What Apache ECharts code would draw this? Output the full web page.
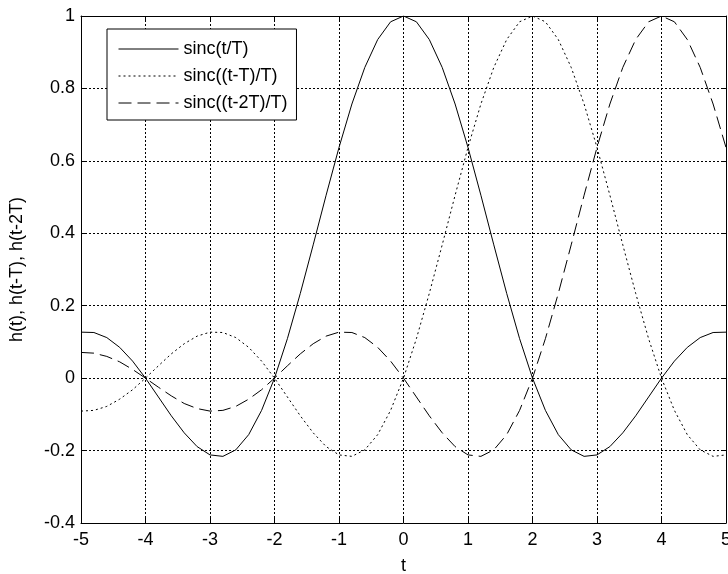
<!DOCTYPE html>
<html>
<head>
<meta charset="utf-8">
<script src="https://cdn.jsdelivr.net/npm/echarts@6/dist/echarts.min.js"></script>
<style>
  html, body { margin: 0; padding: 0; background: #fff; }
  #chart { width: 728px; height: 574px; }
</style>
</head>
<body>
<div id="chart"></div>
<script>
// Sample times t = -5 ... 5 (step 0.2)
const tValues = [
  -5.0, -4.8, -4.6, -4.4, -4.2, -4.0, -3.8, -3.6, -3.4, -3.2,
  -3.0, -2.8, -2.6, -2.4, -2.2, -2.0, -1.8, -1.6, -1.4, -1.2,
  -1.0, -0.8, -0.6, -0.4, -0.2, 0.0, 0.2, 0.4, 0.6, 0.8,
  1.0, 1.2, 1.4, 1.6, 1.8, 2.0, 2.2, 2.4, 2.6, 2.8,
  3.0, 3.2, 3.4, 3.6, 3.8, 4.0, 4.2, 4.4, 4.6, 4.8, 5.0
];

// h(t) = sinc(t/T)
const hT0 = [
  0.127, 0.126, 0.112, 0.085, 0.047, 0.000, -0.052, -0.104, -0.151, -0.189,
  -0.212, -0.216, -0.198, -0.156, -0.089, 0.000, 0.109, 0.234, 0.368, 0.505,
  0.637, 0.757, 0.858, 0.935, 0.984, 1.000, 0.984, 0.935, 0.858, 0.757,
  0.637, 0.505, 0.368, 0.234, 0.109, 0.000, -0.089, -0.156, -0.198, -0.216,
  -0.212, -0.189, -0.151, -0.104, -0.052, 0.000, 0.047, 0.085, 0.112, 0.126, 0.127
];

// h(t-T) = sinc((t-T)/T)
const hT1 = [
  -0.091, -0.089, -0.078, -0.058, -0.032, 0.000, 0.034, 0.067, 0.095, 0.116,
  0.127, 0.126, 0.112, 0.085, 0.047, 0.000, -0.052, -0.104, -0.151, -0.189,
  -0.212, -0.216, -0.198, -0.156, -0.089, 0.000, 0.109, 0.234, 0.368, 0.505,
  0.637, 0.757, 0.858, 0.935, 0.984, 1.000, 0.984, 0.935, 0.858, 0.757,
  0.637, 0.505, 0.368, 0.234, 0.109, 0.000, -0.089, -0.156, -0.198, -0.216, -0.212
];

// h(t-2T) = sinc((t-2T)/T)
const hT2 = [
  0.071, 0.069, 0.060, 0.045, 0.024, 0.000, -0.025, -0.049, -0.070, -0.084,
  -0.091, -0.089, -0.078, -0.058, -0.032, 0.000, 0.034, 0.067, 0.095, 0.116,
  0.127, 0.126, 0.112, 0.085, 0.047, 0.000, -0.052, -0.104, -0.151, -0.189,
  -0.212, -0.216, -0.198, -0.156, -0.089, 0.000, 0.109, 0.234, 0.368, 0.505,
  0.637, 0.757, 0.858, 0.935, 0.984, 1.000, 0.984, 0.935, 0.858, 0.757, 0.637
];

const seriesNames = ['sinc(t/T)', 'sinc((t-T)/T)', 'sinc((t-2T)/T)'];
const xTickLabels = ['-5', '-4', '-3', '-2', '-1', '0', '1', '2', '3', '4', '5'];
const yTickLabels = ['-0.4', '-0.2', '0', '0.2', '0.4', '0.6', '0.8', '1'];
const xAxisTitle = 't';
const yAxisTitle = 'h(t), h(t-T), h(t-2T)';

const FONT = 'Liberation Sans, Arial, Helvetica, sans-serif';
const FS = 18;

function pairs(ys) {
  return tValues.map((t, i) => [t, ys[i]]);
}

const chart = echarts.init(document.getElementById('chart'), null, { renderer: 'canvas' });

const gridLine = { show: true, lineStyle: { color: '#000', width: 1, type: [2, 2] } };
const boxLine = { show: true, onZero: false, lineStyle: { color: '#000', width: 1 } };
const innerTick = { show: true, inside: true, length: 5, lineStyle: { color: '#000', width: 1 } };

const lineStyles = [
  { color: '#000', width: 1, type: 'solid' },
  { color: '#000', width: 1, type: [2, 3] },
  { color: '#000', width: 1, type: [13, 6] }
];

chart.setOption({
  backgroundColor: '#fff',
  animation: false,
  textStyle: { fontFamily: FONT },
  grid: {
    left: 81, top: 16, right: 2, bottom: 51,
    containLabel: false,
    outerBoundsMode: 'none'
  },
  legend: {
    orient: 'vertical',
    left: 107,
    top: 29,
    padding: [11, 9, 8, 11],
    itemGap: 9,
    itemWidth: 60,
    itemHeight: 18,
    itemTextGap: 6,
    backgroundColor: '#fff',
    borderColor: '#000',
    borderWidth: 1,
    borderRadius: 0,
    itemStyle: { color: 'rgba(0,0,0,0)', opacity: 0, borderWidth: 0 },
    lineStyle: { width: 1 },
    textStyle: { fontFamily: FONT, fontSize: FS, color: '#000' },
    data: seriesNames
  },
  xAxis: [
    {
      type: 'value',
      min: -5, max: 5, interval: 1,
      position: 'bottom',
      name: xAxisTitle,
      nameLocation: 'middle',
      nameGap: 34,
      nameTextStyle: { fontFamily: FONT, fontSize: FS, color: '#000' },
      axisLine: boxLine,
      axisTick: innerTick,
      splitLine: gridLine,
      axisLabel: {
        margin: 8,
        fontFamily: FONT, fontSize: FS, color: '#000',
        formatter: (v) => xTickLabels[Math.round(v + 5)]
      }
    },
    {
      type: 'value',
      min: -5, max: 5, interval: 1,
      position: 'top',
      axisLine: boxLine,
      axisTick: innerTick,
      splitLine: { show: false },
      axisLabel: { show: false }
    }
  ],
  yAxis: [
    {
      type: 'value',
      min: -0.4, max: 1, interval: 0.2,
      position: 'left',
      name: yAxisTitle,
      nameLocation: 'middle',
      nameGap: 55,
      nameRotate: 90,
      nameTextStyle: { fontFamily: FONT, fontSize: FS, color: '#000' },
      axisLine: boxLine,
      axisTick: innerTick,
      splitLine: gridLine,
      axisLabel: {
        margin: 6,
        fontFamily: FONT, fontSize: FS, color: '#000',
        formatter: (v) => yTickLabels[Math.round((v + 0.4) / 0.2)]
      }
    },
    {
      type: 'value',
      min: -0.4, max: 1, interval: 0.2,
      position: 'right',
      axisLine: boxLine,
      axisTick: innerTick,
      splitLine: { show: false },
      axisLabel: { show: false }
    }
  ],
  series: [hT0, hT1, hT2].map((ys, i) => ({
    name: seriesNames[i],
    type: 'line',
    data: pairs(ys),
    symbol: 'none',
    smooth: false,
    clip: true,
    color: '#000',
    lineStyle: lineStyles[i],
    itemStyle: { color: '#000' }
  }))
});
</script>
</body>
</html>
